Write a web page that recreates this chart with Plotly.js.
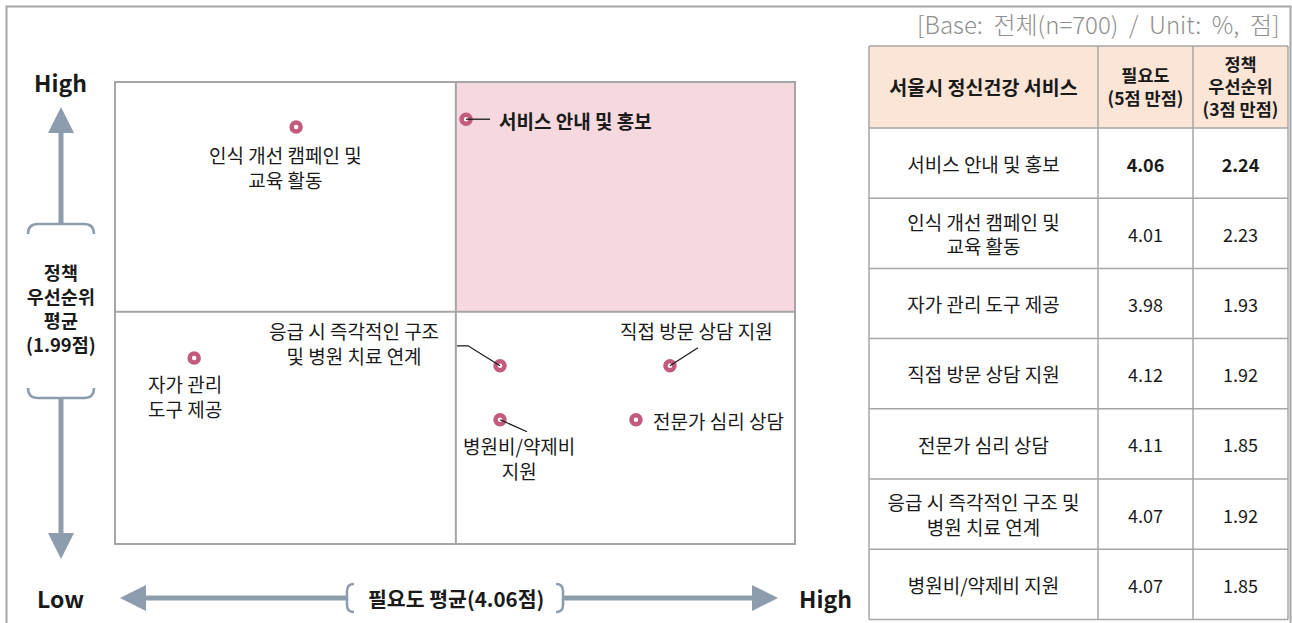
<!DOCTYPE html>
<html>
<head>
<meta charset="utf-8">
<script src="https://cdn.plot.ly/plotly-3.0.1.min.js"></script>
<style>
  html, body { margin: 0; padding: 0; background: #fff; }
  #chart { width: 1292px; height: 623px; }
</style>
</head>
<body>
<div id="chart"></div>
<script>
// 서울시 정신건강 서비스 - 필요도 x 정책 우선순위
const services = ['서비스 안내 및 홍보', '인식 개선 캠페인 및 교육 활동', '자가 관리 도구 제공', '직접 방문 상담 지원',
    '전문가 심리 상담', '응급 시 즉각적인 구조 및 병원 치료 연계', '병원비/약제비 지원'];
const chartLabels = ['서비스 안내 및 홍보', '인식 개선 캠페인 및<br>교육 활동', '자가 관리<br>도구 제공', '직접 방문 상담 지원',
    '전문가 심리 상담', '응급 시 즉각적인 구조<br>및 병원 치료 연계', '병원비/약제비<br>지원'];
const tableLabels = ['서비스 안내 및 홍보', '인식 개선 캠페인 및<br>교육 활동', '자가 관리 도구 제공', '직접 방문 상담 지원',
    '전문가 심리 상담', '응급 시 즉각적인 구조 및<br>병원 치료 연계', '병원비/약제비 지원'];
const need = [4.06, 4.01, 3.98, 4.12, 4.11, 4.07, 4.07];        // 필요도 (5점 만점)
const priority = [2.24, 2.23, 1.93, 1.92, 1.85, 1.92, 1.85];    // 정책 우선순위 (3점 만점)
const needMean = 4.057;
const priorityMean = 1.99;
const tableHeader = ['서울시 정신건강 서비스', '필요도<br>(5점 만점)', '정책<br>우선순위<br>(3점 만점)'];
const baseNote = '[Base:\u00a0 전체(n=700)\u00a0 /\u00a0 Unit:\u00a0 %,\u00a0 점]';

// label placement (px from the point, y up) and leader lines
const labelPlace = [
    { dx: 31, dy: -1, anchor: 'left', leader: 'M0,0 L24,0' },
    { dx: -11, dy: -40, anchor: 'center' },
    { dx: -9, dy: -38, anchor: 'center' },
    { dx: 27, dy: 35, anchor: 'center', leader: 'M0,0 L28,18' },
    { dx: 15, dy: -1, anchor: 'left' },
    { dx: -146, dy: 23, anchor: 'center', leader: 'M-43,20 L-32,20 L0,0' },
    { dx: 19, dy: -38, anchor: 'center', leader: 'M0,0 L27,-12' }
];

const W = 1292, H = 623;
const px = v => v / W;
const py = v => 1 - v / H;
const P = (x, y) => px(x) + ',' + py(y);

const FONT = '"Noto Sans CJK KR", "Noto Sans", sans-serif';
const ink = '#1a1a1a';
const frame = '#a6a6a6';
const arrowColor = '#8d9dad';
const pointColor = '#c35b7d';

const xRange = [3.957, 4.1565];
const yRange = [1.69, 2.287];

const isTop = need.map((v, i) => v >= needMean && priority[i] >= priorityMean);

// table geometry (px units on hidden axes)
const colWidths = [229, 95, 95];
const headerH = 82, rowH = 70.2;
const colEdges = [0];
colWidths.forEach(w => colEdges.push(colEdges[colEdges.length - 1] + w));
const colCenters = colWidths.map((w, i) => colEdges[i] + w / 2);
const tableW = colEdges[colEdges.length - 1];
const tableH = headerH + rowH * services.length;
const rowCenter = i => headerH + (i + 0.5) * rowH + 4;

const scatter = {
    x: need, y: priority, type: 'scatter', mode: 'markers',
    marker: { symbol: 'circle', size: 9, color: '#ffffff', line: { color: pointColor, width: 4.5 } },
    hoverinfo: 'skip', cliponaxis: false
};

function textTrace(xs, ys, texts, size, weight) {
    return {
        x: xs, y: ys, text: texts, xaxis: 'x2', yaxis: 'y2', type: 'scatter', mode: 'text',
        textposition: 'middle center', cliponaxis: false, hoverinfo: 'skip',
        textfont: { family: FONT, size: size, color: ink, weight: weight || 'normal' }
    };
}
const fmt = (v, i) => isTop[i] ? '<b>' + v.toFixed(2) + '</b>' : v.toFixed(2);
const nameCol = textTrace(services.map(() => colCenters[0]), services.map((s, i) => rowCenter(i)), tableLabels, 19);
const needCol = textTrace(need.map(() => colCenters[1]), need.map((v, i) => rowCenter(i)), need.map(fmt), 18);
const prioCol = textTrace(priority.map(() => colCenters[2]), priority.map((v, i) => rowCenter(i)), priority.map(fmt), 18);
const headFirst = textTrace([colCenters[0]], [headerH / 2 + 3], [tableHeader[0]], 19.5, 'bold');
const headRest = textTrace(colCenters.slice(1), [headerH / 2 + 2, headerH / 2 + 2], tableHeader.slice(1), 17.5, 'bold');

// shapes
const shapes = [];
// quadrant fill + mean lines
shapes.push({ type: 'rect', xref: 'x', yref: 'y', x0: needMean, x1: xRange[1], y0: priorityMean, y1: yRange[1],
    fillcolor: '#f5d9df', line: { width: 0 }, layer: 'below' });
shapes.push({ type: 'line', xref: 'x', yref: 'y domain', x0: needMean, x1: needMean, y0: 0, y1: 1,
    line: { color: frame, width: 2 } });
shapes.push({ type: 'line', xref: 'x domain', yref: 'y', x0: 0, x1: 1, y0: priorityMean, y1: priorityMean,
    line: { color: frame, width: 2 } });

// leader lines
labelPlace.forEach((lp, i) => {
    if (!lp.leader) return;
    shapes.push({ type: 'path', xref: 'x', yref: 'y', xsizemode: 'pixel', ysizemode: 'pixel',
        xanchor: need[i], yanchor: priority[i], path: lp.leader, line: { color: ink, width: 1.3 } });
});

// table cells
shapes.push({ type: 'rect', xref: 'x2', yref: 'y2', x0: 0, x1: tableW, y0: 0, y1: headerH,
    fillcolor: '#fbe5d6', line: { width: 0 }, layer: 'below' });
for (let r = 0; r <= services.length; r++) {
    const y = r === 0 ? 0 : headerH + (r - 1) * rowH;
    shapes.push({ type: 'line', xref: 'x2', yref: 'y2', x0: 0, x1: tableW, y0: y, y1: y, line: { color: frame, width: 1.5 } });
}
shapes.push({ type: 'line', xref: 'x2', yref: 'y2', x0: 0, x1: tableW, y0: tableH, y1: tableH, line: { color: frame, width: 1.5 } });
colEdges.forEach(x => {
    shapes.push({ type: 'line', xref: 'x2', yref: 'y2', x0: x, x1: x, y0: 0, y1: tableH, line: { color: frame, width: 1.5 } });
});

// outer border
shapes.push({ type: 'rect', xref: 'paper', yref: 'paper', x0: px(6.5), x1: px(1290.5), y0: py(640), y1: py(6.5),
    line: { color: frame, width: 2 }, layer: 'below' });

// axis arrows and brackets
function deco(d, filled) {
    shapes.push({ type: 'path', xref: 'paper', yref: 'paper', path: d,
        fillcolor: filled ? arrowColor : 'rgba(0,0,0,0)',
        line: { color: arrowColor, width: filled ? 0 : 2.5 } });
}
function shaft(x0, y0, x1, y1) {
    shapes.push({ type: 'line', xref: 'paper', yref: 'paper', x0: px(x0), y0: py(y0), x1: px(x1), y1: py(y1),
        line: { color: arrowColor, width: 5 } });
}
// vertical (정책 우선순위)
deco('M' + P(61, 107) + ' L' + P(74, 133) + ' L' + P(48, 133) + ' Z', true);
shaft(61, 131, 61, 224);
deco('M' + P(28, 234) + ' Q' + P(28, 224) + ' ' + P(38, 224) + ' L' + P(84, 224) + ' Q' + P(94, 224) + ' ' + P(94, 234), false);
deco('M' + P(28, 388) + ' Q' + P(28, 398) + ' ' + P(38, 398) + ' L' + P(84, 398) + ' Q' + P(94, 398) + ' ' + P(94, 388), false);
shaft(61, 398, 61, 535);
deco('M' + P(48, 533) + ' L' + P(74, 533) + ' L' + P(61, 559) + ' Z', true);
// horizontal (필요도)
deco('M' + P(120, 598) + ' L' + P(146, 585) + ' L' + P(146, 611) + ' Z', true);
shaft(143, 598, 347, 598);
deco('M' + P(354, 584) + ' Q' + P(347, 584) + ' ' + P(347, 591) + ' L' + P(347, 605) + ' Q' + P(347, 612) + ' ' + P(354, 612), false);
deco('M' + P(556, 584) + ' Q' + P(563, 584) + ' ' + P(563, 591) + ' L' + P(563, 605) + ' Q' + P(563, 612) + ' ' + P(556, 612), false);
shaft(563, 598, 755, 598);
deco('M' + P(752, 585) + ' L' + P(752, 611) + ' L' + P(778, 598) + ' Z', true);

// annotations
const annotations = [];
chartLabels.forEach((t, i) => {
    const lp = labelPlace[i];
    annotations.push({
        xref: 'x', yref: 'y', x: need[i], y: priority[i], xshift: lp.dx, yshift: lp.dy,
        xanchor: lp.anchor, yanchor: 'middle', align: 'center', showarrow: false,
        text: isTop[i] ? '<b>' + t + '</b>' : t,
        font: { family: FONT, size: 19, color: ink }
    });
});
function paperText(x, y, text, size, color, anchor, weight) {
    annotations.push({ xref: 'paper', yref: 'paper', x: px(x), y: py(y), text: text, showarrow: false,
        xanchor: anchor || 'center', yanchor: 'middle', align: 'center',
        font: { family: FONT, size: size, color: color || ink, weight: weight || 'normal' } });
}
paperText(61, 82, '<b>High</b>', 23);
paperText(61, 598, '<b>Low</b>', 23);
paperText(825, 598, '<b>High</b>', 23);
paperText(61, 308, '<b>정책<br>우선순위<br>평균<br>(' + priorityMean.toFixed(2) + '점)</b>', 18.5);
paperText(456, 598, '<b>필요도 평균(' + needMean.toFixed(2) + '점)</b>', 20.5);
paperText(1282, 23, baseNote, 24, '#8f8f8f', 'right', 300);

const hidden = { visible: false, fixedrange: true, showgrid: false, zeroline: false };
const layout = {
    width: W, height: H,
    margin: { l: 0, r: 0, t: 0, b: 0, pad: 0 },
    paper_bgcolor: '#ffffff', plot_bgcolor: 'rgba(0,0,0,0)',
    showlegend: false,
    font: { family: FONT, color: ink },
    xaxis: { domain: [px(116), px(794)], range: xRange, showline: true, mirror: true, linecolor: frame, linewidth: 2,
        showgrid: false, zeroline: false, showticklabels: false, ticks: '', fixedrange: true },
    yaxis: { domain: [py(543), py(83)], range: yRange, showline: true, mirror: true, linecolor: frame, linewidth: 2,
        showgrid: false, zeroline: false, showticklabels: false, ticks: '', fixedrange: true },
    xaxis2: Object.assign({ domain: [px(867), px(1290)], range: [-2, tableW + 2], anchor: 'y2' }, hidden),
    yaxis2: Object.assign({ domain: [py(619.4 + 2), py(46 - 2)], range: [tableH + 2, -2], anchor: 'x2' }, hidden),
    shapes: shapes,
    annotations: annotations
};

Plotly.newPlot('chart', [scatter, headFirst, headRest, nameCol, needCol, prioCol], layout,
    { displayModeBar: false, staticPlot: true });
</script>
</body>
</html>
